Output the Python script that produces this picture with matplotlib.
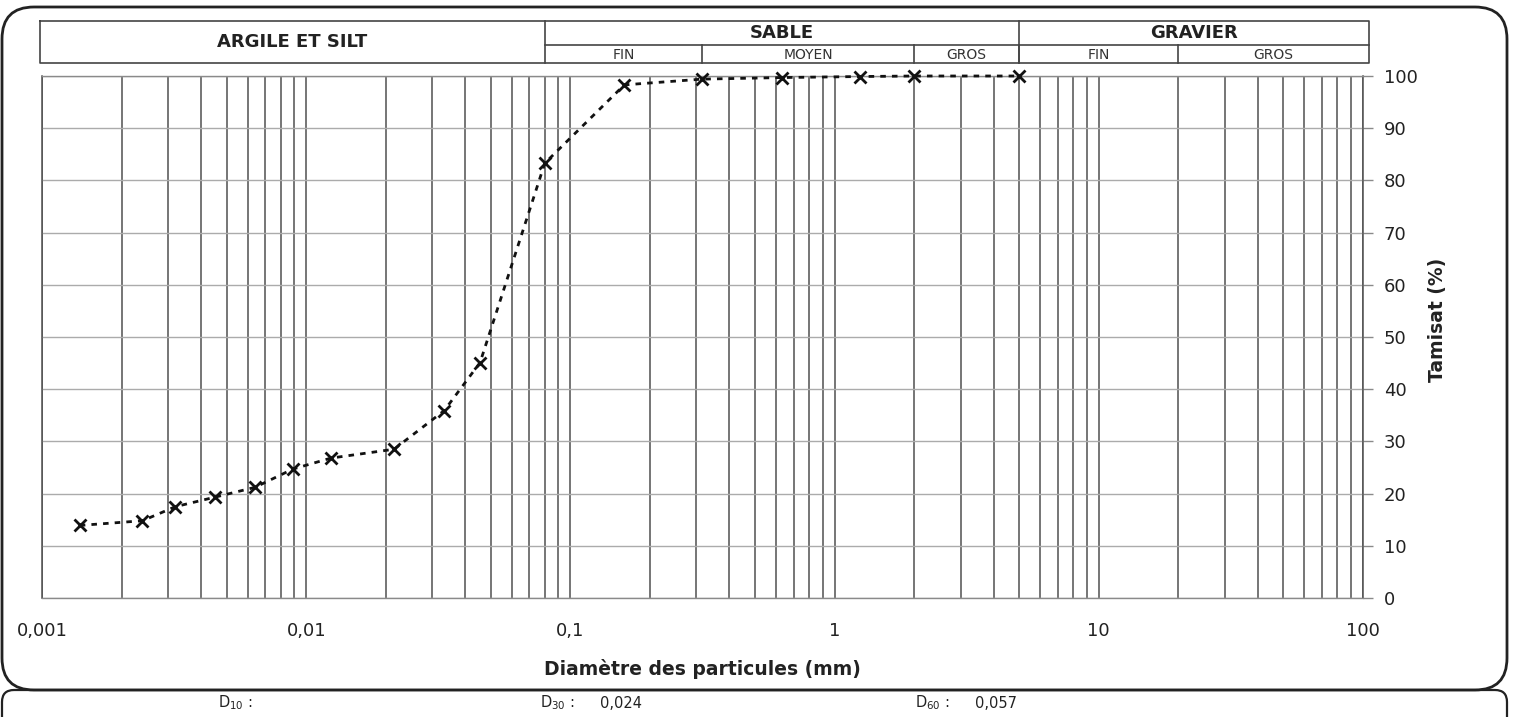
import matplotlib
matplotlib.use("Agg")
import matplotlib.pyplot as plt
import matplotlib.transforms as mtransforms
from matplotlib.patches import FancyBboxPatch
from matplotlib.ticker import FixedLocator, NullFormatter, FixedFormatter, LogLocator
import numpy as np

plt.rcParams['font.family'] = ['DejaVu Sans']

# ---- data ----
diametre_mm = [0.00139, 0.0024, 0.0032, 0.0045, 0.0064, 0.0089, 0.0124, 0.0215,
               0.0333, 0.0455, 0.08, 0.16, 0.315, 0.63, 1.25, 2.0, 5.0]
tamisat_pct = [13.9, 14.8, 17.5, 19.3, 21.2, 24.7, 26.8, 28.5,
               35.9, 45.1, 83.3, 98.3, 99.4, 99.7, 99.9, 100.0, 100.0]

x_ticks = [0.001, 0.01, 0.1, 1, 10, 100]
x_tick_labels = ['0,001', '0,01', '0,1', '1', '10', '100']
y_ticks = [0, 10, 20, 30, 40, 50, 60, 70, 80, 90, 100]

# header classes (mm boundaries)
main_classes = ['ARGILE ET SILT', 'SABLE', 'GRAVIER']
main_bounds = [0.00098, 0.08, 5.0, 105.0]
sub_classes = ['FIN', 'MOYEN', 'GROS', 'FIN', 'GROS']
sub_bounds = [0.08, 0.315, 2.0, 5.0, 20.0, 105.0]

footer_labels = [r'D$_{10}$ :', r'D$_{30}$ :', r'D$_{60}$ :']
footer_values = ['', '0,024', '0,057']

W, H = 1514, 717
fig = plt.figure(figsize=(W / 100, H / 100), dpi=100)
fig.patch.set_facecolor('white')
px = mtransforms.Affine2D().scale(1.0 / W, 1.0 / H) + fig.transFigure

def fy(ytop):
    return 1 - ytop / H

ax = fig.add_axes([42 / W, fy(598), (1363 - 42) / W, (598 - 76) / H])
ax.set_xscale('log')
ax.set_xlim(0.001, 100)
ax.set_ylim(0, 100)

ax.plot(diametre_mm, tamisat_pct, color='#111111', linestyle=(0, (2.0, 2.2)),
        linewidth=2.0, marker='x', markersize=8, markeredgewidth=2.0, zorder=5,
        clip_on=False)

ax.xaxis.set_major_locator(FixedLocator(x_ticks))
ax.xaxis.set_major_formatter(FixedFormatter(x_tick_labels))
ax.xaxis.set_minor_locator(LogLocator(base=10, subs=np.arange(2, 10)))
ax.xaxis.set_minor_formatter(NullFormatter())
ax.tick_params(axis='x', which='both', length=0, pad=17, labelsize=13, labelcolor='#222222')

ax.yaxis.tick_right()
ax.set_yticks(y_ticks)
ax.tick_params(axis='y', which='major', length=7, width=1, color='#8a8a8a',
               pad=8, labelsize=13, labelcolor='#222222')

ax.grid(True, axis='x', which='both', color='#505050', linewidth=1.1)
ax.grid(True, axis='y', which='major', color='#ababab', linewidth=1.0)
ax.set_axisbelow(True)
for s in ['top', 'bottom']:
    ax.spines[s].set_color('#8a8a8a')
    ax.spines[s].set_linewidth(1.0)
for s in ['left', 'right']:
    ax.spines[s].set_color('#505050')
    ax.spines[s].set_linewidth(1.1)

ax.set_xlabel('Diamètre des particules (mm)', fontsize=13.5, fontweight='bold',
              color='#222222', labelpad=14)
fig.text(1437 / W, fy(320), 'Tamisat (%)', rotation=90, fontsize=13.5,
         fontweight='bold', color='#222222', ha='center', va='center')

# ---- header table ----
ht = mtransforms.blended_transform_factory(ax.transData, fig.transFigure)
y_top, y_mid, y_bot = fy(21), fy(45), fy(63)
lc = '#444444'
lw = 1.2
ax.plot([main_bounds[0], main_bounds[-1], main_bounds[-1], main_bounds[0], main_bounds[0]],
        [y_top, y_top, y_bot, y_bot, y_top], transform=ht, color=lc, lw=lw, clip_on=False)
for b in main_bounds[1:-1]:
    ax.plot([b, b], [y_top, y_bot], transform=ht, color=lc, lw=lw, clip_on=False)
ax.plot([main_bounds[1], main_bounds[-1]], [y_mid, y_mid], transform=ht, color=lc,
        lw=lw, clip_on=False)
for b in sub_bounds[1:-1]:
    ax.plot([b, b], [y_mid, y_bot], transform=ht, color=lc, lw=lw, clip_on=False)

def gmid(a, b):
    return 10 ** ((np.log10(a) + np.log10(b)) / 2)

for i, name in enumerate(main_classes):
    xc = gmid(main_bounds[i], main_bounds[i + 1])
    yc = (y_top + y_bot) / 2 if i == 0 else (y_top + y_mid) / 2
    ax.text(xc, yc, name, transform=ht, ha='center', va='center', fontsize=13,
            fontweight='bold', color='#222222', clip_on=False)
for i, name in enumerate(sub_classes):
    xc = gmid(sub_bounds[i], sub_bounds[i + 1])
    ax.text(xc, (y_mid + y_bot) / 2 - 0.002, name, transform=ht, ha='center', va='center',
            fontsize=10, color='#333333', clip_on=False)

# ---- outer frames ----
frame = FancyBboxPatch((2, H - 690), 1505, 690 - 7,
                       boxstyle='round,pad=0,rounding_size=32', transform=px,
                       fill=False, edgecolor='#222222', linewidth=2.0)
fig.patches.append(frame)
footer = FancyBboxPatch((2, -40), 1505, 40 + (H - 690),
                        boxstyle='round,pad=0,rounding_size=12', transform=px,
                        fill=False, edgecolor='#222222', linewidth=1.6)
fig.patches.append(footer)

# ---- footer texts ----
label_x = [218, 540, 915]
value_x = [600, 600, 975]
for lab, val, lx, vx in zip(footer_labels, footer_values, label_x, value_x):
    fig.text(lx / W, fy(703), lab, fontsize=10.5, color='#222222', ha='left', va='center')
    if val:
        fig.text(vx / W, fy(703), val, fontsize=10.5, color='#222222', ha='left', va='center')

fig.savefig('out.png', dpi=100)
